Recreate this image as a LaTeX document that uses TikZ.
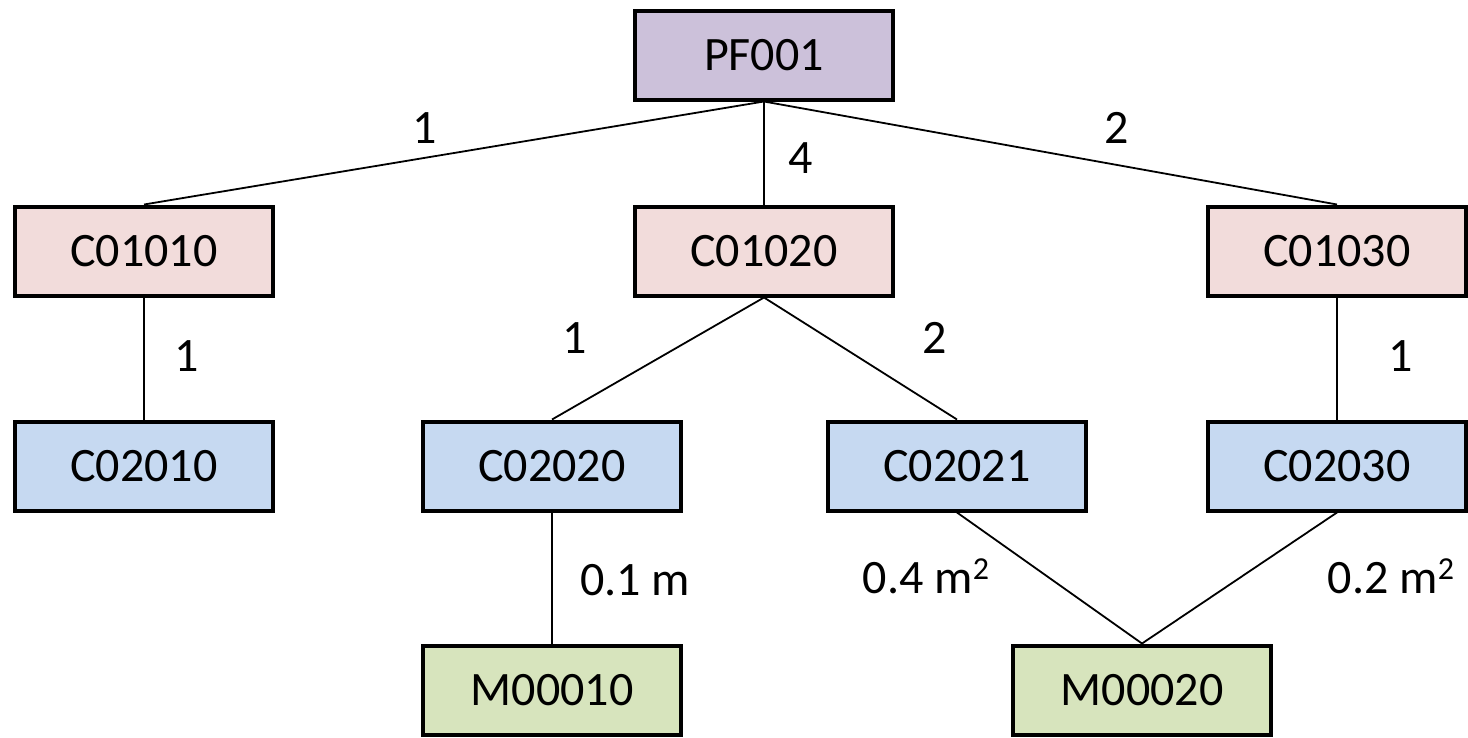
\documentclass[tikz,border=0pt]{standalone}
\usepackage{fontspec}
\setmainfont{Carlito}
\definecolor{cpurple}{HTML}{CCC1DA}
\definecolor{cpink}{HTML}{F2DCDB}
\definecolor{cblue}{HTML}{C6D9F1}
\definecolor{cgreen}{HTML}{D7E4BD}
\newcommand{\sqm}{m\raisebox{0.62ex}{\fontsize{32}{32}\selectfont 2}}
\begin{document}
\begin{tikzpicture}[x=1pt,y=-1pt,
  box/.style={draw=black,line width=4pt,minimum width=258pt,minimum height=89pt,inner sep=0pt,font=\fontsize{48}{58}\selectfont},
  lbl/.style={font=\fontsize{48}{58}\selectfont,inner sep=0pt},
  edge/.style={line width=1.8pt}]
\useasboundingbox (0,0) rectangle (1468,737);
\node[box,fill=cpurple] (pf) at (764,55) {PF001};
\node[box,fill=cpink] (c11) at (144,251) {C01010};
\node[box,fill=cpink] (c12) at (764,251) {C01020};
\node[box,fill=cpink] (c13) at (1337,251) {C01030};
\node[box,fill=cblue] (c21) at (144,466) {C02010};
\node[box,fill=cblue] (c22) at (552,466) {C02020};
\node[box,fill=cblue] (c23) at (957,466) {C02021};
\node[box,fill=cblue] (c24) at (1337,466) {C02030};
\node[box,fill=cgreen] (m1) at (552,690) {M00010};
\node[box,fill=cgreen] (m2) at (1142,690) {M00020};
\draw[edge] (pf.south) -- (c11.north);
\draw[edge] (pf.south) -- (c12.north);
\draw[edge] (pf.south) -- (c13.north);
\draw[edge] (c11.south) -- (c21.north);
\draw[edge] (c12.south) -- (c22.north);
\draw[edge] (c12.south) -- (c23.north);
\draw[edge] (c13.south) -- (c24.north);
\draw[edge] (c22.south) -- (m1.north);
\draw[edge] (c23.south) -- (m2.north);
\draw[edge] (c24.south) -- (m2.north);
\node[lbl] (l1) at (425,128) {1};
\node[lbl] (l2) at (801,158) {4};
\node[lbl] (l3) at (1117,128) {2};
\node[lbl] (l4) at (187,356) {1};
\node[lbl] (l5) at (575,338) {1};
\node[lbl] (l6) at (935,338) {2};
\node[lbl] (l7) at (1401,356) {1};
\node[lbl] (l8) at (635,580) {0.1 m};
\node[lbl] (l9) at (926,576) {0.4 \sqm};
\node[lbl] (l10) at (1391,576) {0.2 \sqm};
\end{tikzpicture}
\end{document}
